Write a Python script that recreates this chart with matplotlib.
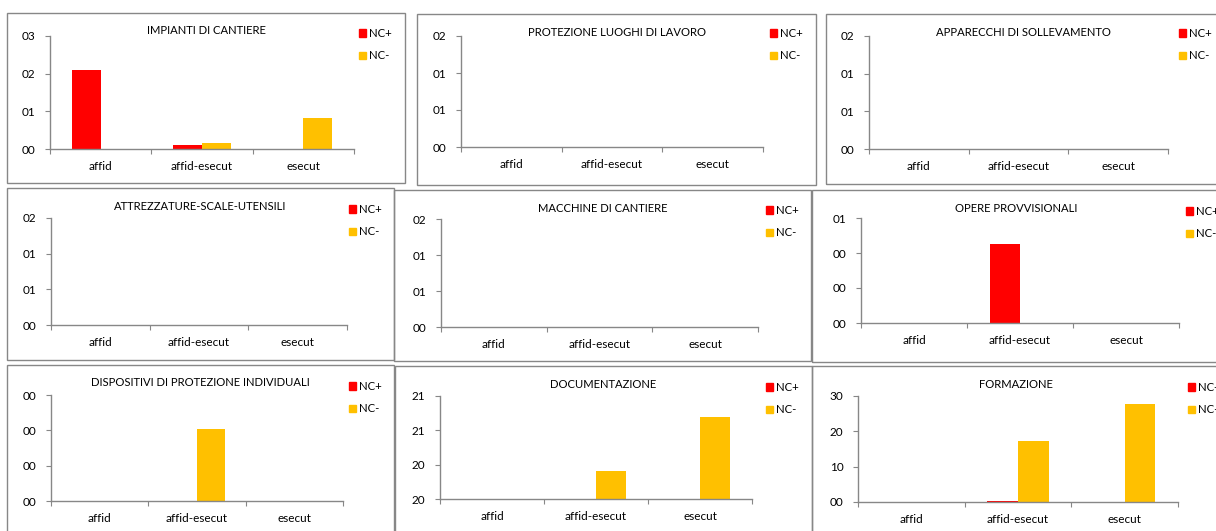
import matplotlib
matplotlib.use("Agg")
import matplotlib.pyplot as plt
from matplotlib.patches import Rectangle, Patch

W, H = 1216, 531

# dati
categories = ["affid", "affid-esecut", "esecut"]
titles = ["IMPIANTI DI CANTIERE", "PROTEZIONE LUOGHI DI LAVORO", "APPARECCHI DI SOLLEVAMENTO",
          "ATTREZZATURE-SCALE-UTENSILI", "MACCHINE DI CANTIERE", "OPERE PROVVISIONALI",
          "DISPOSITIVI DI PROTEZIONE INDIVIDUALI", "DOCUMENTAZIONE", "FORMAZIONE"]
nc_plus = [[2.09, 0.10, 0], [0, 0, 0], [0, 0, 0],
           [0, 0, 0], [0, 0, 0], [0, 2.27, 0],
           [0, 0, 0], [0, 0, 0], [0, 0.02, 0]]
nc_minus = [[0, 0.16, 0.83], [0, 0, 0], [0, 0, 0],
            [0, 0, 0], [0, 0, 0], [0, 0, 0],
            [0, 2.03, 0], [0, 0.82, 2.38], [0, 1.72, 2.76]]
ytick_labels = [["00", "01", "02", "03"], ["00", "01", "01", "02"], ["00", "01", "01", "02"],
                ["00", "01", "01", "02"], ["00", "01", "01", "02"], ["00", "00", "00", "01"],
                ["00", "00", "00", "00"], ["20", "20", "21", "21"], ["00", "10", "20", "30"]]
series_names = ["NC+", "NC-"]
colors = ["#FF0000", "#FFC000"]

# layout in pixel (sinistra, alto, destra, basso)
boxes = [(7, 13, 405, 183), (417, 14, 816, 185), (826, 14, 1220, 184),
         (7, 188, 394, 360), (394, 190, 811, 361), (812, 190, 1220, 362),
         (7, 365, 394, 535), (395, 366, 812, 535), (812, 366, 1220, 535)]
plots = [(50, 36, 354, 149), (461, 36, 763, 147), (869, 36, 1168, 149),
         (51, 218, 347, 325), (441, 219, 758, 327), (861, 218, 1179, 323),
         (51, 395, 343, 501), (440, 396, 752, 499), (858, 396, 1178, 502)]
legend_pos = [(359, 28), (770, 28), (1179, 28),
              (349, 204), (766, 205), (1186, 206),
              (349, 381), (766, 382), (1188, 382)]

plt.rcParams["font.family"] = ["Lato", "DejaVu Sans"]
fig = plt.figure(figsize=(W / 100, H / 100), dpi=100)
grey = "#878787"


def px(x, y):
    return x / W, 1 - y / H


for i in range(9):
    bx0, by0, bx1, by1 = boxes[i]
    fig.patches.append(Rectangle(px(bx0, by1), (bx1 - bx0) / W, (by1 - by0) / H,
                                 transform=fig.transFigure, fill=False,
                                 edgecolor=grey, lw=1.0))

    x0, y0, x1, y1 = plots[i]
    ax = fig.add_axes([x0 / W, 1 - y1 / H, (x1 - x0) / W, (y1 - y0) / H])
    pos = range(len(categories))
    bw = 0.286
    ax.bar([p - bw / 2 for p in pos], nc_plus[i], bw, color=colors[0], label=series_names[0])
    ax.bar([p + bw / 2 for p in pos], nc_minus[i], bw, color=colors[1], label=series_names[1])

    ax.set_xlim(-0.5, 2.5)
    ax.set_ylim(0, 3)
    ax.set_yticks(range(4))
    ax.set_yticklabels(ytick_labels[i])
    ax.set_xticks([-0.5, 0.5, 1.5, 2.5])
    ax.set_xticklabels([])
    ax.set_xticks(list(pos), minor=True)
    ax.set_xticklabels(categories, minor=True)
    ax.tick_params(axis="x", which="minor", length=0, pad=8.5, labelsize=8.5)
    ax.tick_params(axis="x", which="major", length=3.5, color=grey, direction="out")
    ax.tick_params(axis="y", length=3.5, color=grey, pad=7, labelsize=8.5)
    for s in ["top", "right"]:
        ax.spines[s].set_visible(False)
    for s in ["left", "bottom"]:
        ax.spines[s].set_color(grey)
        ax.spines[s].set_linewidth(1.0)
    ax.patch.set_alpha(0)

    tx = (bx0 + bx1) / 2
    ty = by0 + 18
    fig.text(tx / W, 1 - ty / H, titles[i], ha="center", va="center", fontsize=8.1)

    handles = [Patch(color=c) for c in colors]
    lx, ly = legend_pos[i]
    ax.legend(handles, series_names, loc="upper left", bbox_to_anchor=px(lx, ly),
              bbox_transform=fig.transFigure, frameon=False, fontsize=8.2,
              handlelength=0.6, handleheight=0.6, handletextpad=0.3,
              labelspacing=1.0, borderpad=0, borderaxespad=0)

fig.savefig("out.png", dpi=100)
